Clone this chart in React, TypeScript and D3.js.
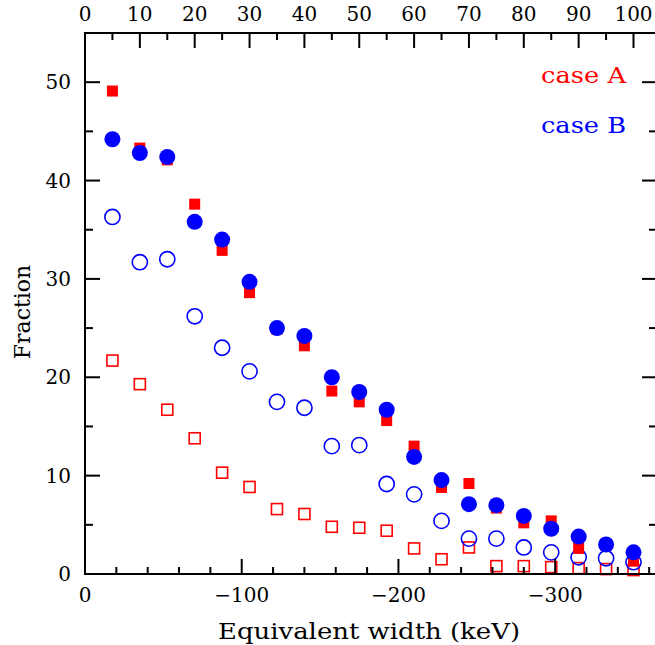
import React, { useEffect, useRef } from 'react';
import * as d3 from 'd3';

// bin centres in keV (negative equivalent width), 17.5 keV bins
const ewBins = [-17.5, -35, -52.5, -70, -87.5, -105, -122.5, -140, -157.5, -175,
  -192.5, -210, -227.5, -245, -262.5, -280, -297.5, -315, -332.5, -350];

const caseAFilled = [49.1, 43.3, 42.1, 37.6, 32.9, 28.6, 24.9, 23.2, 18.6, 17.5,
  15.6, 13.0, 8.8, 9.2, 6.7, 5.2, 5.4, 2.6, 2.9, 1.3];
const caseBFilled = [44.2, 42.8, 42.4, 35.8, 34.0, 29.7, 25.0, 24.2, 20.0, 18.5,
  16.7, 11.9, 9.55, 7.1, 7.0, 5.9, 4.6, 3.8, 3.0, 2.2];
const caseBOpen = [36.3, 31.7, 32.0, 26.2, 23.0, 20.6, 17.5, 16.9, 13.0, 13.1,
  9.15, 8.1, 5.4, 3.6, 3.6, 2.7, 2.2, 1.7, 1.6, 1.2];
const caseAOpen = [21.7, 19.3, 16.7, 13.8, 10.3, 8.85, 6.6, 6.1, 4.8, 4.7,
  4.4, 2.6, 1.5, 2.7, 0.8, 0.8, 0.7, 0.6, 0.5, 0.4];

const bottomTicks = [0, -100, -200, -300];
const topTicks = [0, 10, 20, 30, 40, 50, 60, 70, 80, 90, 100];
const yTicks = [0, 10, 20, 30, 40, 50];
const legendItems = [
  { label: 'case A', color: '#ff0000' },
  { label: 'case B', color: '#0000ff' },
];

const FONT = '"DejaVu Serif", "Liberation Serif", serif';

const App = () => {
  const svgRef = useRef<SVGSVGElement>(null);

  useEffect(() => {
    const width = 655;
    const height = 645;
    const left = 85, right = 657, top = 33, bottom = 574;

    const svg = d3.select(svgRef.current);
    svg.selectAll('*').remove();

    const x = d3.scaleLinear().domain([0, -350]).range([left, 633.5]);
    const xTop = d3.scaleLinear().domain([0, 100]).range([left, 633.5]);
    const y = d3.scaleLinear().domain([0, 55]).range([bottom, top]);

    const g = svg.append('g');

    // markers: open first, filled on top
    const sq = (cls, vals, size, filled) => {
      g.selectAll('rect.' + cls)
        .data(vals)
        .enter()
        .append('rect')
        .attr('class', cls)
        .attr('x', (d, i) => x(ewBins[i]) - size / 2)
        .attr('y', d => y(d) - size / 2)
        .attr('width', size)
        .attr('height', size)
        .attr('fill', filled ? '#ff0000' : 'none')
        .attr('stroke', filled ? 'none' : '#ff0000')
        .attr('stroke-width', 1.6);
    };
    const circ = (cls, vals, r, filled) => {
      g.selectAll('circle.' + cls)
        .data(vals)
        .enter()
        .append('circle')
        .attr('class', cls)
        .attr('cx', (d, i) => x(ewBins[i]))
        .attr('cy', d => y(d))
        .attr('r', r)
        .attr('fill', filled ? '#0000ff' : 'none')
        .attr('stroke', filled ? 'none' : '#0000ff')
        .attr('stroke-width', 1.6);
    };

    sq('aopen', caseAOpen, 11, false);
    circ('bopen', caseBOpen, 7.6, false);
    sq('afill', caseAFilled, 11, true);
    circ('bfill', caseBFilled, 8, true);

    // frame
    const ax = svg.append('g').attr('stroke', '#000').attr('stroke-width', 2);
    ax.append('rect')
      .attr('x', left).attr('y', top)
      .attr('width', right - left).attr('height', bottom - top)
      .attr('fill', 'none');

    // bottom ticks (inward), minor every 20 keV
    d3.range(0, -361, -20).forEach(v => {
      const major = v % 100 === 0;
      ax.append('line')
        .attr('x1', x(v)).attr('x2', x(v))
        .attr('y1', bottom).attr('y2', bottom - (major ? 15 : 7));
    });
    // top ticks, minor every 5
    d3.range(0, 101, 5).forEach(v => {
      const major = v % 10 === 0;
      ax.append('line')
        .attr('x1', xTop(v)).attr('x2', xTop(v))
        .attr('y1', top).attr('y2', top + (major ? 15 : 7));
    });
    // left/right ticks, minor every 5
    d3.range(0, 56, 5).forEach(v => {
      const major = v % 10 === 0;
      const len = major ? 15 : 8;
      ax.append('line')
        .attr('x1', left).attr('x2', left + len)
        .attr('y1', y(v)).attr('y2', y(v));
      ax.append('line')
        .attr('x1', right).attr('x2', right - len)
        .attr('y1', y(v)).attr('y2', y(v));
    });

    const txt = svg.append('g').attr('font-family', FONT).attr('fill', '#000');

    txt.selectAll('text.bt')
      .data(bottomTicks)
      .enter()
      .append('text')
      .attr('class', 'bt')
      .attr('x', d => x(d))
      .attr('y', 602)
      .attr('text-anchor', 'middle')
      .attr('font-size', 20)
      .text(d => (d === 0 ? '0' : '\u2212' + Math.abs(d)));

    txt.selectAll('text.tt')
      .data(topTicks)
      .enter()
      .append('text')
      .attr('class', 'tt')
      .attr('x', d => xTop(d))
      .attr('y', 21)
      .attr('text-anchor', 'middle')
      .attr('font-size', 20)
      .text(d => d);

    txt.selectAll('text.yt')
      .data(yTicks)
      .enter()
      .append('text')
      .attr('class', 'yt')
      .attr('x', 71)
      .attr('y', d => y(d) + 7)
      .attr('text-anchor', 'end')
      .attr('font-size', 20)
      .text(d => d);

    txt.append('text')
      .attr('x', 218)
      .attr('y', 639)
      .attr('font-size', 22)
      .attr('textLength', 302)
      .attr('lengthAdjust', 'spacingAndGlyphs')
      .text('Equivalent width (keV)');

    txt.append('text')
      .attr('transform', 'translate(30,312) rotate(-90)')
      .attr('text-anchor', 'middle')
      .attr('font-size', 22)
      .text('Fraction');

    txt.selectAll('text.lg')
      .data(legendItems)
      .enter()
      .append('text')
      .attr('class', 'lg')
      .attr('x', 541)
      .attr('y', (d, i) => 83 + i * 50)
      .attr('font-size', 22)
      .attr('textLength', 85)
      .attr('lengthAdjust', 'spacingAndGlyphs')
      .attr('fill', d => d.color)
      .text(d => d.label);

    svg.attr('width', width).attr('height', height);
  }, []);

  return (
    <svg ref={svgRef} width={655} height={645}
      style={{ position: 'absolute', left: 0, top: 0, background: '#fff' }} />
  );
};

export default App;
